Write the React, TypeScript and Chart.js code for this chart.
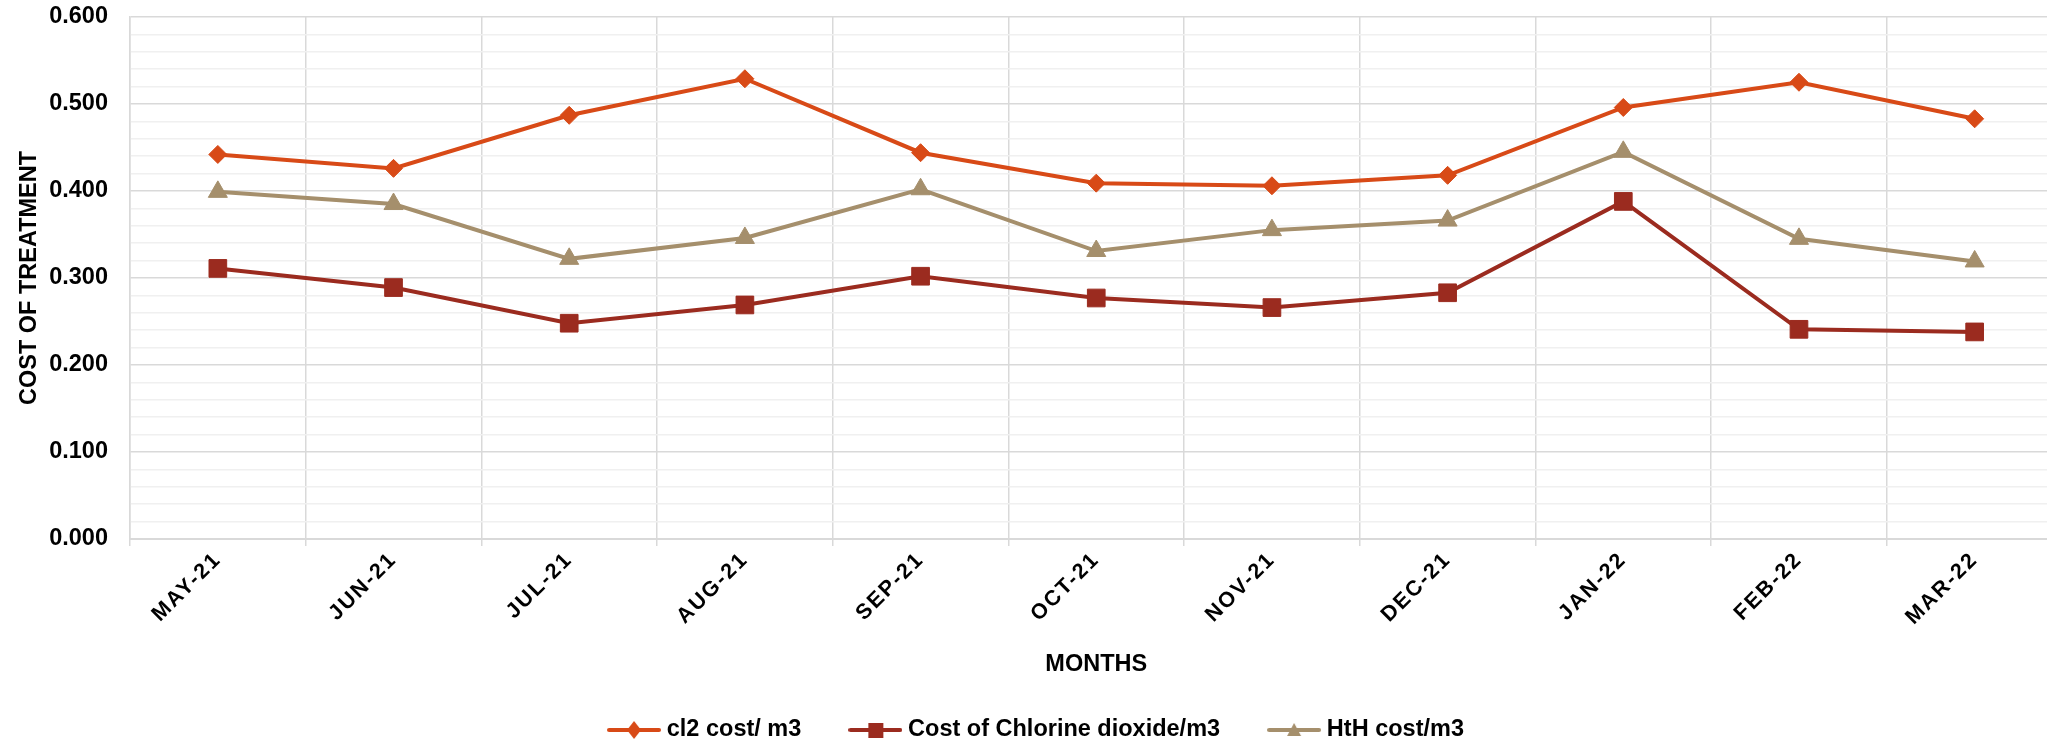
import React, { useEffect, useRef } from "react";
import { Chart, registerables } from "chart.js";

Chart.register(...registerables);

const months = ["MAY-21", "JUN-21", "JUL-21", "AUG-21", "SEP-21", "OCT-21", "NOV-21", "DEC-21", "JAN-22", "FEB-22", "MAR-22"];
const cl2Cost = [0.442, 0.426, 0.487, 0.529, 0.444, 0.409, 0.406, 0.418, 0.496, 0.525, 0.483];
const chlorineDioxideCost = [0.311, 0.289, 0.248, 0.269, 0.302, 0.277, 0.266, 0.283, 0.388, 0.241, 0.238];
const hthCost = [0.399, 0.385, 0.322, 0.346, 0.402, 0.331, 0.355, 0.366, 0.445, 0.345, 0.319];
const seriesNames = ["cl2 cost/ m3", "Cost of Chlorine dioxide/m3", "HtH cost/m3"];
const yTickLabels = ["0.000", "0.100", "0.200", "0.300", "0.400", "0.500", "0.600"];

const COLORS = ["#D84A17", "#9B2B1F", "#A58F6C"];
const FONT = '"Liberation Sans", Arial, sans-serif';

function makeIcon(color: string, kind: string) {
  const c = document.createElement("canvas");
  c.width = 54;
  c.height = 24;
  const ctx = c.getContext("2d")!;
  ctx.strokeStyle = color;
  ctx.fillStyle = color;
  ctx.lineWidth = 4;
  ctx.lineCap = "round";
  ctx.beginPath();
  ctx.moveTo(2, 12);
  ctx.lineTo(52, 12);
  ctx.stroke();
  ctx.beginPath();
  if (kind === "diamond") {
    ctx.moveTo(27, 3);
    ctx.lineTo(34, 12);
    ctx.lineTo(27, 21);
    ctx.lineTo(20, 12);
  } else if (kind === "square") {
    ctx.rect(20, 5, 15, 15);
  } else {
    ctx.moveTo(27, 5);
    ctx.lineTo(34, 18);
    ctx.lineTo(20, 18);
  }
  ctx.closePath();
  ctx.fill();
  return c;
}

const xSpacingPlugin = {
  id: "xLetterSpacing",
  beforeDraw(chart: any) {
    const s: any = chart.scales.x;
    if (s && !s.__patched) {
      const orig = s.drawLabels.bind(s);
      s.drawLabels = (area: any) => {
        const ctx: any = chart.ctx;
        ctx.save();
        ctx.letterSpacing = "2px";
        orig(area);
        ctx.restore();
      };
      s.__patched = true;
    }
  },
};

export default function App() {
  const ref = useRef<HTMLCanvasElement>(null);

  useEffect(() => {
    const canvas = ref.current!;
    const icons = [makeIcon(COLORS[0], "diamond"), makeIcon(COLORS[1], "square"), makeIcon(COLORS[2], "triangle")];
    const chart = new Chart(canvas, {
      type: "line",
      data: {
        labels: months,
        datasets: [
          {
            label: seriesNames[0],
            data: cl2Cost,
            borderColor: COLORS[0],
            backgroundColor: COLORS[0],
            borderWidth: 4,
            pointStyle: "rectRot",
            pointRadius: 9,
            pointBorderWidth: 1,
            tension: 0,
          },
          {
            label: seriesNames[1],
            data: chlorineDioxideCost,
            borderColor: COLORS[1],
            backgroundColor: COLORS[1],
            borderWidth: 4,
            pointStyle: "rect",
            pointRadius: 12.5,
            pointBorderWidth: 1,
            tension: 0,
          },
          {
            label: seriesNames[2],
            data: hthCost,
            borderColor: COLORS[2],
            backgroundColor: COLORS[2],
            borderWidth: 4,
            pointStyle: "triangle",
            pointRadius: 11,
            pointBorderWidth: 1,
            tension: 0,
          },
        ],
      },
      options: {
        responsive: false,
        animation: false,
        devicePixelRatio: 1,
        layout: { padding: { top: 17, right: 10, bottom: -12.75, left: 11 } },
        plugins: {
          tooltip: { enabled: false },
          legend: {
            position: "bottom",
            labels: {
              usePointStyle: true,
              pointStyleWidth: 42,
              padding: 53,
              color: "#000",
              font: { family: FONT, size: 23.5, weight: "bold" },
              generateLabels: () =>
                seriesNames.map((name, i) => ({
                  text: name,
                  pointStyle: icons[i] as any,
                  fillStyle: COLORS[i],
                  strokeStyle: COLORS[i],
                  lineWidth: 0,
                  hidden: false,
                  datasetIndex: i,
                  fontColor: "#000",
                })),
            },
          },
        },
        scales: {
          x: {
            offset: true,
            grid: { offset: true, color: "#d9d9d9", lineWidth: 1.5, drawTicks: true, tickLength: 7 },
            border: { color: "#d9d9d9", width: 2 },
            ticks: {
              autoSkip: false,
              maxRotation: 45,
              minRotation: 45,
              padding: 1,
              color: "#000",
              font: { family: FONT, size: 21.5, weight: "bold" },
            },
            title: {
              display: true,
              text: "MONTHS",
              color: "#000",
              font: { family: FONT, size: 23.5, weight: "bold" },
              padding: { top: 28.1, bottom: -13.85 },
            },
          },
          y: {
            min: 0,
            max: 0.6,
            border: { color: "#d9d9d9", width: 1.5 },
            grid: {
              drawTicks: true,
              tickLength: 22,
              tickColor: "rgba(0,0,0,0)",
              lineWidth: 1.5,
              color: (c: any) => (c.index % 5 === 0 ? "#d9d9d9" : "#f0f0f0"),
            },
            ticks: {
              stepSize: 0.02,
              autoSkip: false,
              maxTicksLimit: 100,
              padding: 0,
              color: "#000",
              font: { family: FONT, size: 23.5, weight: "bold" },
              callback: (_v: any, i: number) => (i % 5 === 0 ? yTickLabels[i / 5] : ""),
            },
            title: {
              display: true,
              text: "COST OF TREATMENT",
              color: "#000",
              font: { family: FONT, size: 23.5, weight: "bold" },
              padding: { top: 4, bottom: 8 },
            },
            afterFit: (s: any) => {
              s.width = 119;
            },
          },
        },
      },
      plugins: [xSpacingPlugin],
    });
    return () => chart.destroy();
  }, []);

  return (
    <div style={{ position: "fixed", left: 0, top: 0, width: 2047, height: 739, overflow: "hidden", background: "#fff" }}>
      <canvas ref={ref} width={2076} height={739} style={{ display: "block", width: 2076, height: 739 }} />
    </div>
  );
}
